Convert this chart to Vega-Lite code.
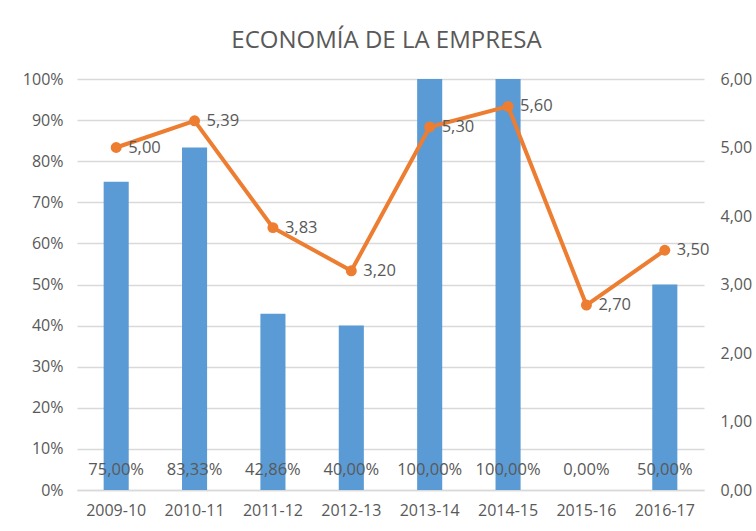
{
  "$schema": "https://vega.github.io/schema/vega-lite/v6.json",
  "width": 627,
  "height": 411,
  "autosize": {"type": "none"},
  "padding": {"left": 77, "top": 79, "right": 52, "bottom": 41},
  "background": "white",
  "title": {
    "text": "ECONOMÍA DE LA EMPRESA",
    "fontSize": 24,
    "font": "Open Sans",
    "fontWeight": "normal",
    "color": "#595959",
    "anchor": "middle",
    "offset": 18,
    "dx": -4
  },
  "config": {
    "locale": {"number": {"decimal": ",", "thousands": ".", "grouping": [3], "currency": ["", " €"]}},
    "view": {"stroke": null},
    "font": "Open Sans",
    "axis": {
      "labelFont": "Open Sans",
      "labelFontSize": 16,
      "labelColor": "#595959",
      "domain": false,
      "ticks": false,
      "gridColor": "#D9D9D9",
      "gridWidth": 1.3,
      "title": null
    }
  },
  "data": {
    "values": [
      {"season": "2009-10", "pct": 0.75, "score": 5.00},
      {"season": "2010-11", "pct": 0.8333, "score": 5.39},
      {"season": "2011-12", "pct": 0.4286, "score": 3.83},
      {"season": "2012-13", "pct": 0.40, "score": 3.20},
      {"season": "2013-14", "pct": 1.00, "score": 5.30},
      {"season": "2014-15", "pct": 1.00, "score": 5.60},
      {"season": "2015-16", "pct": 0.00, "score": 2.70},
      {"season": "2016-17", "pct": 0.50, "score": 3.50}
    ]
  },
  "encoding": {
    "x": {
      "field": "season",
      "type": "nominal",
      "sort": null,
      "scale": {"paddingInner": 0.68, "paddingOuter": 0.34},
      "axis": {"labelAngle": 0, "labelPadding": 12, "domain": true, "domainColor": "#D9D9D9", "domainWidth": 1.3, "grid": false}
    }
  },
  "layer": [
    {
      "layer": [
        {
          "mark": {"type": "bar", "color": "#5B9BD5"},
          "encoding": {
            "y": {
              "field": "pct",
              "type": "quantitative",
              "scale": {"domain": [0, 1]},
              "axis": {"format": ".0%", "values": [0, 0.1, 0.2, 0.3, 0.4, 0.5, 0.6, 0.7, 0.8, 0.9, 1], "grid": true, "labelPadding": 14}
            }
          }
        },
        {
          "mark": {"type": "text", "fontSize": 16.5, "color": "#595959", "dy": -20, "baseline": "middle", "align": "center"},
          "encoding": {
            "y": {"datum": 0, "type": "quantitative"},
            "text": {"field": "pct", "type": "quantitative", "format": ".2%"}
          }
        }
      ]
    },
    {
      "layer": [
        {
          "mark": {"type": "line", "color": "#ED7D31", "strokeWidth": 4},
          "encoding": {
            "y": {
              "field": "score",
              "type": "quantitative",
              "scale": {"domain": [0, 6]},
              "axis": {"orient": "right", "format": ".2f", "values": [0, 1, 2, 3, 4, 5, 6], "grid": false, "labelPadding": 16}
            }
          }
        },
        {
          "mark": {"type": "point", "filled": true, "color": "#ED7D31", "size": 120, "opacity": 1},
          "encoding": {"y": {"field": "score", "type": "quantitative"}}
        },
        {
          "mark": {"type": "text", "fontSize": 16.5, "color": "#595959", "dx": 12, "baseline": "middle", "align": "left"},
          "encoding": {
            "y": {"field": "score", "type": "quantitative"},
            "text": {"field": "score", "type": "quantitative", "format": ".2f"}
          }
        }
      ]
    }
  ],
  "resolve": {"scale": {"y": "independent"}}
}
